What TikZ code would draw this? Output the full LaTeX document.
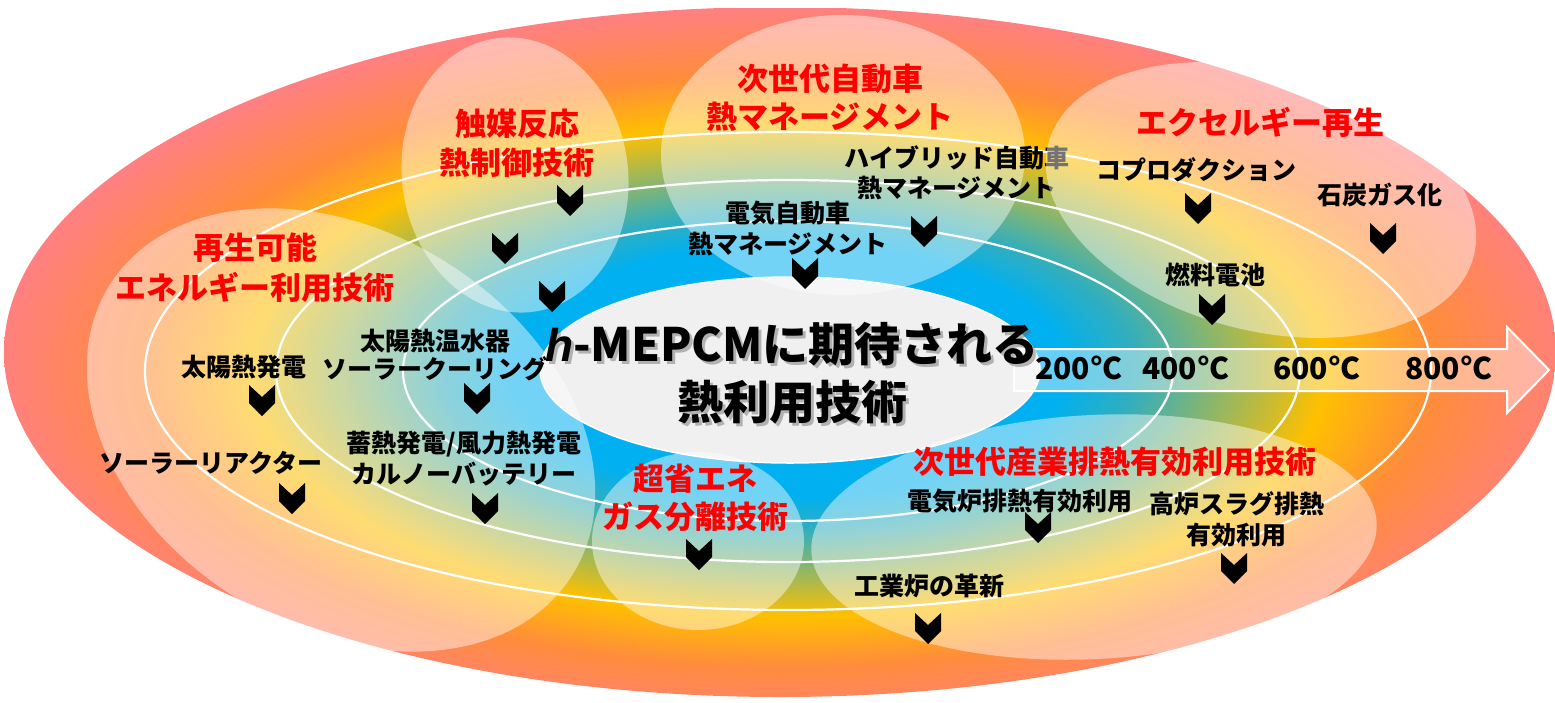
\documentclass[tikz,border=0pt]{standalone}
\usepackage{fontspec}
\setmainfont{Noto Sans CJK JP}
\newfontfamily\hfont{Liberation Sans}
\definecolor{hblue}{RGB}{0,176,240}
\definecolor{hteal}{RGB}{50,174,190}
\definecolor{hgold}{RGB}{255,192,0}
\definecolor{horange}{RGB}{255,140,60}
\definecolor{hpink}{RGB}{255,128,128}
\definecolor{hred}{RGB}{255,0,0}
\definecolor{cgray}{RGB}{240,240,240}
\pgfdeclareradialshading{heat}{\pgfpointorigin}{color(0bp)=(hblue); color(8.75bp)=(hblue); color(11bp)=(hteal); color(17bp)=(hgold); color(20.5bp)=(horange); color(25bp)=(hpink); color(50bp)=(hpink)}
\tikzset{
  ring/.style={draw=white, line width=2.2pt},
  glass/.style={fill=white, fill opacity=0.45},
  redlbl/.style={text=hred, inner sep=0pt, font=\bfseries\fontsize{31}{36}\selectfont},
  blklbl/.style={text=black, inner sep=0pt, font=\bfseries\fontsize{25}{30}\selectfont},
  templbl/.style={text=black, inner sep=0pt, font=\bfseries\fontsize{30}{34}\selectfont},
  titlelbl/.style={inner sep=0pt, font=\bfseries\fontsize{46}{52}\selectfont},
  chev/.pic={\fill[black] (-13,0) -- (0,12) -- (13,0) -- (13,18) -- (0,31) -- (-13,18) -- cycle;}
}
\begin{document}
\begin{tikzpicture}[x=1pt, y=-1pt]
\useasboundingbox (0,0) rectangle (1555,702);
% outer heat blob
\begin{scope}
  \clip (780,352) ellipse [x radius=776, y radius=345];
  \shade[shading=heat] (-2,8) rectangle (1578,732);
\end{scope}
% temperature rings
\draw[ring] (788,371) ellipse [x radius=385, y radius=150];
\draw[ring] (788,371) ellipse [x radius=512, y radius=191];
\draw[ring] (788,371) ellipse [x radius=643, y radius=239];
% centre ellipse
\filldraw[fill=cgray, draw=white, line width=1.5pt] (790,370) ellipse [x radius=250, y radius=93];
% translucent field ellipses
\fill[glass, rotate around={8:(515,175)}] (515,175) ellipse [x radius=113, y radius=138];
\fill[glass, rotate around={-32:(341,430)}] (341,430) ellipse [x radius=273, y radius=198];
\fill[glass] (843,155) ellipse [x radius=182, y radius=140];
\node[blklbl] (hyb1) at (957,158) {ハイブリッド自動車};
\node[blklbl] (hyb2) at (957,188) {熱マネージメント};
\fill[glass, rotate around={-15:(1261,200)}] (1261,200) ellipse [x radius=220, y radius=130];
\fill[glass] (698,541) ellipse [x radius=106, y radius=89];
\fill[glass, rotate around={3:(1094,537)}] (1094,537) ellipse [x radius=283, y radius=122];
% temperature arrow
\filldraw[fill=white, fill opacity=0.4, draw=white, draw opacity=1, line width=2pt]
  (1014,349) -- (1507,349) -- (1507,327) -- (1549,370) -- (1507,413) -- (1507,391) -- (1014,391) -- cycle;
\node[templbl] (t200) at (1079,368) {200°C};
\node[templbl] (t400) at (1186,368) {400°C};
\node[templbl] (t600) at (1317,368) {600°C};
\node[templbl] (t800) at (1449,368) {800°C};
% red field labels
\node[redlbl] (cat1) at (517,124) {触媒反応};
\node[redlbl] (cat2) at (517,163) {熱制御技術};
\node[redlbl] (car1) at (830,79) {次世代自動車};
\node[redlbl] (car2) at (830,117) {熱マネージメント};
\node[redlbl] (exg) at (1260,122) {エクセルギー再生};
\node[redlbl] (ren1) at (255,248) {再生可能};
\node[redlbl] (ren2) at (255,287) {エネルギー利用技術};
\node[redlbl] (gas1) at (695,479) {超省エネ};
\node[redlbl] (gas2) at (695,517) {ガス分離技術};
\node[redlbl] (ind) at (1115,462) {次世代産業排熱有効利用技術};
% black item labels
\node[blklbl] (ev1) at (788,213) {電気自動車};
\node[blklbl] (ev2) at (788,244) {熱マネージメント};
\node[blklbl] (cop) at (1196,170) {コプロダクション};
\node[blklbl] (coal) at (1380,195) {石炭ガス化};
\node[blklbl] (fc) at (1215,275) {燃料電池};
\node[blklbl] (sw1) at (435,341) {太陽熱温水器};
\node[blklbl] (sw2) at (435,369) {ソーラークーリング};
\node[blklbl] (stp) at (244,367) {太陽熱発電};
\node[blklbl] (sto1) at (464,444) {蓄熱発電/風力熱発電};
\node[blklbl] (sto2) at (464,474) {カルノーバッテリー};
\node[blklbl] (sr) at (211,463) {ソーラーリアクター};
\node[blklbl] (eaf) at (1020,501) {電気炉排熱有効利用};
\node[blklbl] (bf1) at (1237,504) {高炉スラグ排熱};
\node[blklbl] (bf2) at (1236,535) {有効利用};
\node[blklbl] (furn) at (929,586) {工業炉の革新};
% chevrons
\foreach \cx/\cy in {570/185, 505/233, 552/281, 805/258, 924/216, 1198/193, 1383/223, 1212/294, 262/385, 477/383, 292/483, 485/493, 699/539, 1038/512, 1234/553, 928/613}
  \pic at (\cx,\cy) {chev};
% title
\node[titlelbl, text=black!60, opacity=0.45] (ttl1s) at (795,347) {{\hfont\itshape h}-MEPCMに期待される};
\node[titlelbl, text=black!60, opacity=0.45] (ttl2s) at (795,405) {熱利用技術};
\node[titlelbl, text=black] (ttl1) at (792,344) {{\hfont\itshape h}-MEPCMに期待される};
\node[titlelbl, text=black] (ttl2) at (792,402) {熱利用技術};
\end{tikzpicture}
\end{document}
